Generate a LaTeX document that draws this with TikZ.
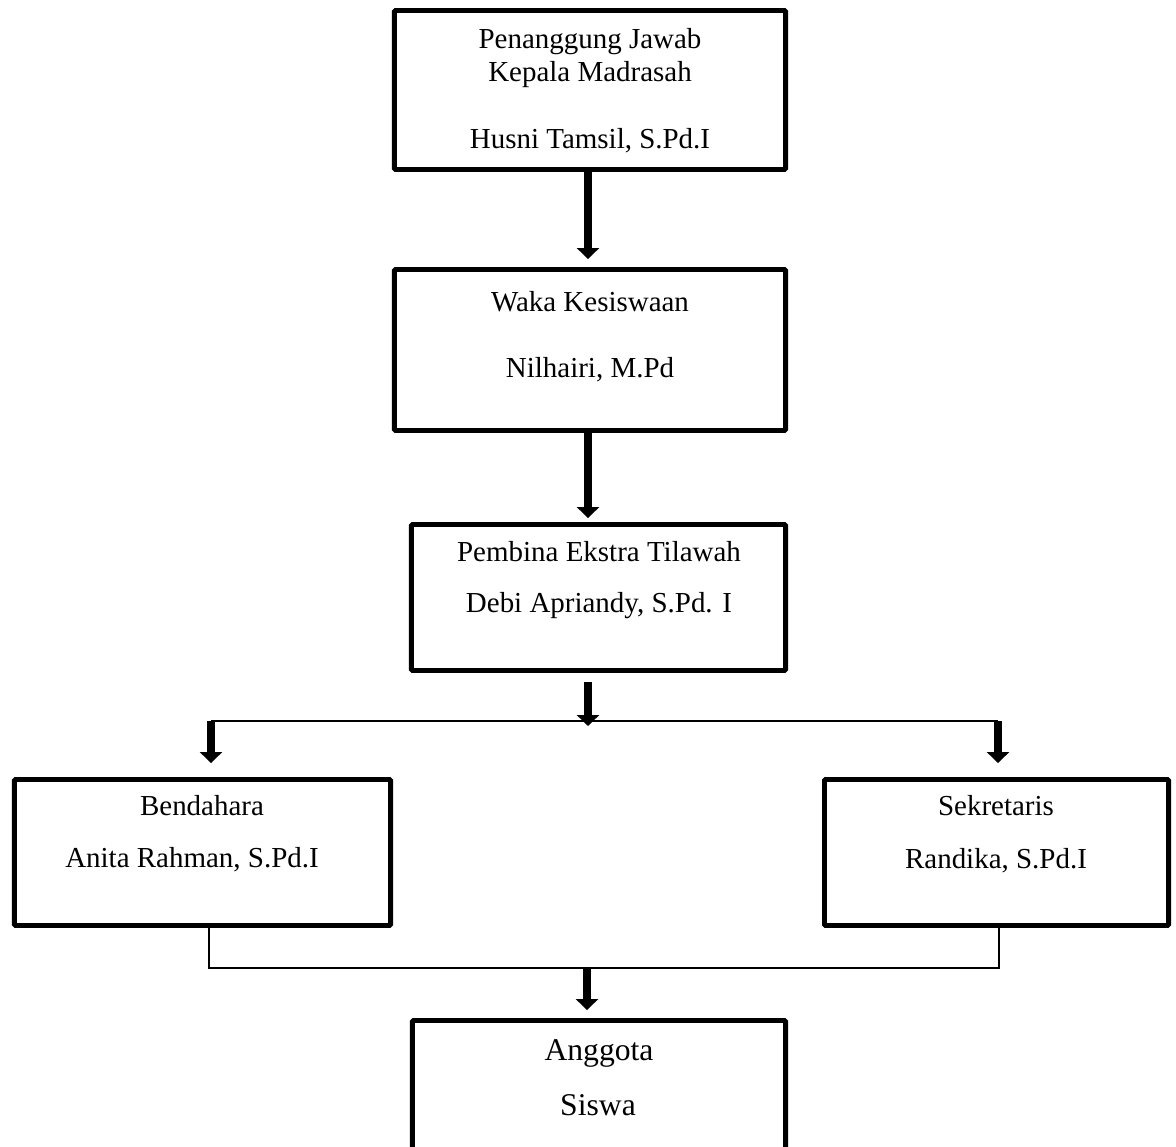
\documentclass[tikz,border=0pt]{standalone}
\usepackage{fontspec}
\setmainfont{Liberation Serif}
\usetikzlibrary{arrows.meta, positioning}
\tikzset{>=stealth}

\begin{document}
\begin{tikzpicture}[x=0.025cm, y=-0.025cm,
	box/.style={draw, line width=3.5pt, rounded corners=0.8pt, inner sep=0pt},
	txt/.style={anchor=base, inner sep=0pt, font=\fontsize{20.6}{24}\selectfont},
	bigtxt/.style={anchor=base, inner sep=0pt, font=\fontsize{22.5}{27}\selectfont},
	bigarrow/.style={line width=6.2pt, -{Triangle[width=15.6pt, length=7.8pt]}},
	thinline/.style={line width=1.3pt}]

			\useasboundingbox (0,0) rectangle (1176,1146);
			\clip (0,0) rectangle (1176,1146);

			\node[box, minimum width=9.775cm, minimum height=3.975cm] (kepala) at (590,90) {};
			\node[box, minimum width=9.775cm, minimum height=4.025cm] (waka) at (590,350) {};
			\node[box, minimum width=9.35cm, minimum height=3.65cm] (pembina) at (598.5,597.5) {};
			\node[box, minimum width=9.4cm, minimum height=3.65cm] (bendahara) at (202.5,852.5) {};
			\node[box, minimum width=8.6cm, minimum height=3.65cm] (sekretaris) at (996.5,852.5) {};
			\node[box, minimum width=9.325cm, minimum height=3.75cm] (anggota) at (599,1095.5) {};

			\node[txt] (kepala1) at (590,48) {Penanggung Jawab};
			\node[txt] (kepala2) at (590,81) {Kepala Madrasah};
			\node[txt] (kepala3) at (590,148) {Husni Tamsil, S.Pd.I};
			\node[txt] (waka1) at (590,311) {Waka Kesiswaan};
			\node[txt] (waka2) at (590,377) {Nilhairi, M.Pd};
			\node[txt] (pembina1) at (599,561) {Pembina Ekstra Tilawah};
			\node[txt] (pembina2) at (599,612) {Debi Apriandy, S.Pd. I};
			\node[txt] (bendahara1) at (202,815) {Bendahara};
			\node[txt] (bendahara2) at (192,867) {Anita Rahman, S.Pd.I};
			\node[txt] (sekretaris1) at (996,815) {Sekretaris};
			\node[txt] (sekretaris2) at (996,868) {Randika, S.Pd.I};
			\node[bigtxt] (anggota1) at (599,1060) {Anggota};
			\node[bigtxt] (anggota2) at (598,1115) {Siswa};

			\coordinate (spine) at (588,0);
			\coordinate (split) at (588,726);
			\coordinate (barL) at (211,721);
			\coordinate (barR) at (998,721);
			\coordinate (joinL) at (209,968);
			\coordinate (joinR) at (999,968);
			\coordinate (merge) at (587,967);

			\draw[bigarrow, shorten >=0.2cm] (spine |- kepala.south) -- (spine |- waka.north);
			\draw[bigarrow, shorten >=0.1cm] (spine |- waka.south) -- (spine |- pembina.north);
			\draw[bigarrow, shorten <=0.225cm] (spine |- pembina.south) -- (split);
			\draw[thinline] (barL) -- (barR);
			\draw[bigarrow, shorten >=0.35cm] (barL) -- (barL |- bendahara.north);
			\draw[bigarrow, shorten >=0.35cm] (barR) -- (barR |- sekretaris.north);
			\draw[thinline] (joinL |- bendahara.south) -- (joinL) -- (joinR) -- (joinR |- sekretaris.south);
			\draw[bigarrow, shorten >=0.2cm] (merge) -- (anggota.north -| merge);

\end{tikzpicture}
\end{document}
